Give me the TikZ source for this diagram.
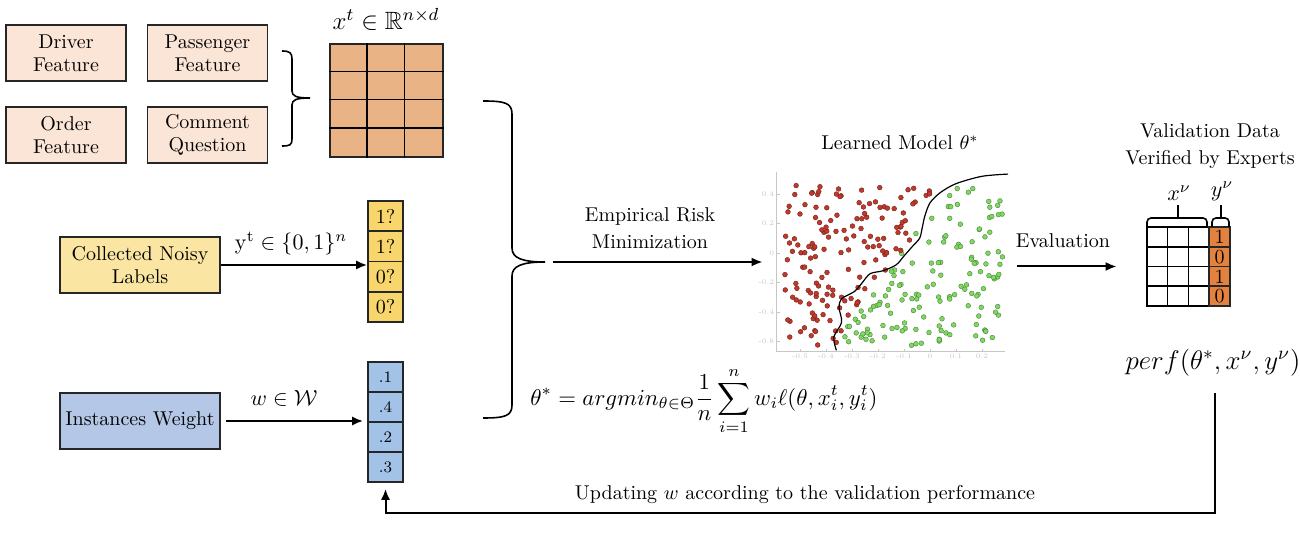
\RequirePackage{fix-cm}
\documentclass[tikz,border=0pt]{standalone}
\usepackage{amsmath,amssymb}
\usetikzlibrary{arrows.meta}

\definecolor{featfill}{HTML}{FAE5D6}
\definecolor{matfill}{HTML}{EAB386}
\definecolor{yelfill}{HTML}{FAE6A2}
\definecolor{yelcell}{HTML}{F8D66B}
\definecolor{bluefill}{HTML}{B4C7E7}
\definecolor{bluecell}{HTML}{A3C2E8}
\definecolor{orgcell}{HTML}{E3823F}
\definecolor{reddot}{HTML}{C0392B}
\definecolor{greendot}{HTML}{7ED960}

\begin{document}
\begin{tikzpicture}[x=0.5pt,y=-0.5pt,
    font=\fontsize{10}{13.5}\selectfont,
    featbox/.style={rectangle, draw=black!85, line width=0.8pt, fill=featfill,
      minimum width=60pt, minimum height=28pt, inner sep=0pt, align=center,
      font=\fontsize{10}{11.5}\selectfont},
    srcbox/.style={featbox, minimum width=80pt},
    cell/.style={rectangle, draw=black!85, line width=0.8pt, inner sep=0pt,
      minimum width=17.5pt, minimum height=15pt},
    flow/.style={-{Latex[length=5.5pt, width=4.5pt]}, line width=1pt},
    mathlab/.style={font=\fontsize{11}{13}\selectfont},
    ticklab/.style={text=gray!45, font=\fontsize{3.5}{4}\selectfont, inner sep=1pt},
    dotred/.style={fill=reddot, draw=reddot!60!black, line width=0.2pt},
    dotgreen/.style={fill=greendot, draw=greendot!60!black, line width=0.2pt}]
      \useasboundingbox (0,0) rectangle (1300,544);

      % features
      \node at (66,53) [featbox] (driver) {Driver\\Feature};
      \node at (207.5,53) [featbox] (passenger) {Passenger\\Feature};
      \node at (66,135) [featbox] (order) {Order\\Feature};
      \node at (207.5,135) [featbox] (comment) {Comment\\Question};

      \draw[line width=0.8pt]
      (282,51) .. controls (290,51) and (292,53) .. (292,59) -- (292,91)
      .. controls (292,96) and (296,98) .. (310,98)
      .. controls (296,98) and (292,100) .. (292,105) -- (292,139)
      .. controls (292,145) and (290,146) .. (282,146);

      \node at (386.5,100.5) [rectangle, draw=black!85, fill=matfill, line width=0.8pt,
        minimum width=56.5pt, minimum height=56.5pt, inner sep=0pt] (xmat) {};
      \foreach \c in {1,2}
        \draw[line width=0.8pt] ([xshift=\c*18.83pt]xmat.north west) -- ([xshift=\c*18.83pt]xmat.south west);
      \foreach \r in {1,2,3}
        \draw[line width=0.8pt] ([yshift=-\r*14.125pt]xmat.north west) -- ([yshift=-\r*14.125pt]xmat.north east);
      \node at (386,19) [font=\fontsize{12.5}{14}\selectfont] (xlabel) {$x^t \in \mathbb{R}^{n\times d}$};

      % labels and weights
      \node at (140,265) [srcbox, fill=yelfill] (noisy) {Collected Noisy\\Labels};
      \node at (140,421) [srcbox, fill=bluefill] (weight) {Instances Weight};

      \foreach \v [count=\i] in {1?,1?,0?,0?}
        \node at (385.5,185.9+30.25*\i) [cell, fill=yelcell] (ycell\i) {\v};
      \foreach \v [count=\i] in {.1,.4,.2,.3}
        \node at (385.5,347+30*\i) [cell, fill=bluecell, font=\footnotesize] (wcell\i) {\v};

      \draw[flow] (noisy) -- (noisy.east -| ycell1.west);
      \node at (291,244) [mathlab] (ylabel) {$\mathrm{y}^{\mathrm{t}} \in \{0,1\}^n$};
      \draw[flow, shorten <=2.5pt, shorten >=2pt] (weight) -- (weight.east -| wcell1.west);
      \node at (284,398) [mathlab] (wlabel) {$w \in \mathcal{W}$};

      % big brace
      \draw[line width=0.8pt]
      (483,101) .. controls (505,101) and (512,103) .. (512,114) -- (512,248)
      .. controls (512,258) and (522,262) .. (545,262)
      .. controls (522,262) and (512,266) .. (512,276) -- (512,405)
      .. controls (512,416) and (505,418) .. (483,418);
      \coordinate (bracetip) at (545,262);

      % learned model
      \node at (887,263) [minimum width=122pt, minimum height=95pt, inner sep=0pt] (model) {};
      \node at (900,143) (modeltitle) {Learned Model $\theta^*$};
      \coordinate (plotorigin) at (930,253);
      \begin{scope}[shift={(plotorigin)}, x=130pt, y=73.75pt]
        \draw[gray!45, line width=0.4pt] (-0.59,0.55) -- (-0.59,-0.67) -- (0.29,-0.67);
        \foreach \t [count=\k] in {0.4,0.2,0,-0.2,-0.4,-0.6}{
          \draw[gray!45, line width=0.3pt] (-0.59,\t) -- ++(0.012,0);
          \node[ticklab, left] at (-0.59,\t) (ytick\k) {\t};}
        \foreach \t [count=\k] in {-0.5,-0.4,-0.3,-0.2,-0.1,0,0.1,0.2}{
          \draw[gray!45, line width=0.3pt] (\t,-0.67) -- ++(0,0.02);
          \node[ticklab, below] at (\t,-0.67) (xtick\k) {\t};}
        \pgfmathsetseed{31}
        \foreach \k in {1,...,300}{
          \pgfmathsetmacro{\px}{-0.56+0.84*rnd}
          \pgfmathsetmacro{\py}{-0.63+1.09*rnd}
          \pgfmathsetmacro{\bx}{max(-0.355,-0.11+0.42*\py)}
          \pgfmathtruncatemacro{\isred}{\px<\bx}
          \ifnum\isred=1
            \filldraw[dotred] (\px,\py) circle (1.2pt);
          \else
            \filldraw[dotgreen] (\px,\py) circle (1.2pt);
          \fi}
        \draw[line width=0.6pt] plot[smooth] coordinates {(-0.36,-0.66) (-0.37,-0.57)
          (-0.34,-0.47) (-0.35,-0.37) (-0.34,-0.31) (-0.29,-0.26) (-0.26,-0.2)
          (-0.23,-0.14) (-0.18,-0.12) (-0.13,-0.08) (-0.1,-0.02) (-0.07,0.04)
          (-0.04,0.1) (-0.03,0.17) (-0.02,0.25) (0,0.34) (0.04,0.41) (0.1,0.47)
          (0.2,0.52) (0.3,0.535)};
      \end{scope}

      \draw[flow, shorten <=4pt, shorten >=1pt] (bracetip) -- (bracetip -| model.west);
      \node at (650,228) [align=center] (ermlabel) {Empirical Risk\\Minimization};
      \node at (704,401) [font=\fontsize{11.4}{14}\selectfont] (ermformula) {$\displaystyle \theta^* = argmin_{\theta\in\Theta}\frac{1}{n}\sum_{i=1}^{n} w_i\ell(\theta,x_i^t,y_i^t)$};

      % validation
      \node at (1188.5,266.5) [rectangle, minimum width=41.5pt, minimum height=39.5pt, inner sep=0pt] (valtab) {};
      \foreach \c in {0,1,2}
        \foreach \r in {0,...,3}
          \draw[line width=0.8pt] (1147+20.67*\c,227+19.75*\r) rectangle ++(20.67,19.75);
      \foreach \v [count=\i] in {1,0,1,0}
        \node at (1219.5,217.125+19.75*\i) [cell, fill=orgcell, minimum width=10.5pt,
          minimum height=9.875pt, font=\fontsize{10}{10}\selectfont] (yv\i) {\v};
      \draw[line width=0.8pt, rounded corners=2pt] (1147,227) -- (1147,218) -- (1207,218) -- (1207,227);
      \draw[line width=0.8pt] (1178,218) -- (1178,205);
      \draw[line width=0.8pt, rounded corners=2pt] (1212,227) -- (1212,218) -- (1229,218) -- (1229,227);
      \draw[line width=0.8pt] (1221,218) -- (1221,205);
      \node at (1179,193) [mathlab] (xvlabel) {$x^\nu$};
      \node at (1222,191) [mathlab] (yvlabel) {$y^\nu$};
      \node at (1210,146) [align=center] (valtitle) {Validation Data\\Verified by Experts};

      \draw[flow, shorten <=4pt, shorten >=15pt] (model.east |- valtab.west) -- (valtab.west);
      \node at (1063,241) (evallabel) {Evaluation};
      \node at (1213,363) [font=\fontsize{13.5}{15}\selectfont] (perf) {$perf(\theta^*,x^\nu,y^\nu)$};

      % feedback
      \coordinate (fbstart) at (1215,393);
      \coordinate (fbcorner) at (1215,513);
      \draw[flow, shorten >=3pt] (fbstart) -- (fbcorner) -| (wcell4.south);
      \node at (805,495) (updlabel) {Updating $w$ according to the validation performance};
    \end{tikzpicture}
\end{document}
